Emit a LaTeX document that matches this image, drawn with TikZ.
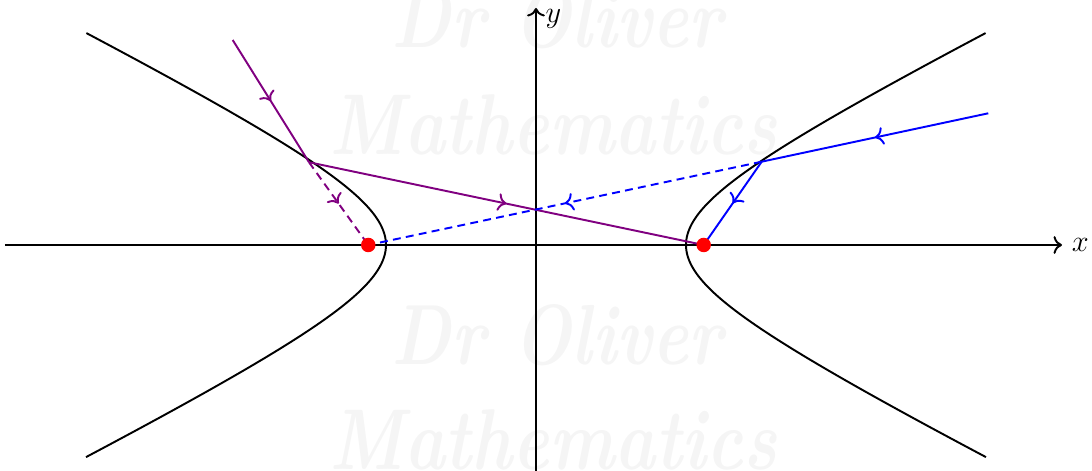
\documentclass[tikz,border=0pt]{standalone}
\usepackage{graphicx}
\usetikzlibrary{decorations.markings,calc,arrows.meta}
\definecolor{raypurple}{RGB}{128,0,128}
\definecolor{wmgray}{gray}{0.96}
\begin{document}
\begin{tikzpicture}[
  curve/.style={line width=1.1pt, black},
  ray/.style={line width=1.1pt},
  midarrow/.style={postaction={decorate},
    decoration={markings, mark=at position 0.5 with {\arrow{To[scale=1.2]}}}},
  raydash/.style={dash pattern=on 4.5pt off 3pt},
  focus/.style={circle, fill=red, inner sep=0pt, minimum size=0.29cm},
  wmark/.style={text=wmgray, inner sep=0pt},
  axis/.style={line width=1.1pt, -{To[scale=1.2]}},
  axlabel/.style={font=\fontsize{16}{18}\selectfont, inner sep=2pt},
]
\useasboundingbox (-10.72,-4.52) rectangle (11.12,4.9);
\clip (-10.72,-4.52) rectangle (11.12,4.9);

% watermark
\node[wmark] (wm1) at (0.43,4.54) {\resizebox{6.62cm}{1.2cm}{\bfseries\itshape Dr Oliver}};
\node[wmark] (wm2) at (0.35,2.4) {\resizebox{8.94cm}{1.2cm}{\bfseries\itshape Mathematics}};
\node[wmark] (wm3) at (0.43,-1.8) {\resizebox{6.62cm}{1.2cm}{\bfseries\itshape Dr Oliver}};
\node[wmark] (wm4) at (0.35,-3.9) {\resizebox{8.94cm}{1.2cm}{\bfseries\itshape Mathematics}};

% axes
\coordinate (xl) at (-10.62,0);
\coordinate (xr) at (10.52,0);
\coordinate (yb) at (0,-4.6);
\coordinate (yt) at (0,4.74);
\draw[axis] (xl) -- (xr) node[axlabel, right=3pt] (xlab) {$x$};
\draw[axis] (yb) -- (yt) node[axlabel, right=3pt, yshift=-6.5pt] (ylab) {$y$};

% hyperbola
\draw[curve] plot[domain=-1.7627:1.7627, samples=120, variable=\t] ({3*cosh(\t)}, {1.5*sinh(\t)});
\draw[curve] plot[domain=-1.7627:1.7627, samples=120, variable=\t] ({-3*cosh(\t)}, {1.5*sinh(\t)});

% points
\coordinate (F1) at (-3.3541,0);
\coordinate (F2) at (3.3541,0);
\coordinate (P1) at (-4.54,1.655);
\coordinate (P2) at (4.514,1.666);
\coordinate (A) at (-6.066,4.1);
\coordinate (B) at (9.046,2.634);

% purple ray
\draw[ray, raypurple, midarrow] (A) -- (P1);
\draw[ray, raypurple, midarrow] (P1) -- (F2);
\draw[ray, raypurple, raydash, midarrow] (P1) -- (F1);

% blue ray
\draw[ray, blue, midarrow] (B) -- (P2);
\draw[ray, blue, midarrow] (P2) -- (F2);
\draw[ray, blue, raydash, midarrow] (P2) -- (F1);

% foci
\node[focus] (f1) at (F1) {};
\node[focus] (f2) at (F2) {};
\end{tikzpicture}
\end{document}
